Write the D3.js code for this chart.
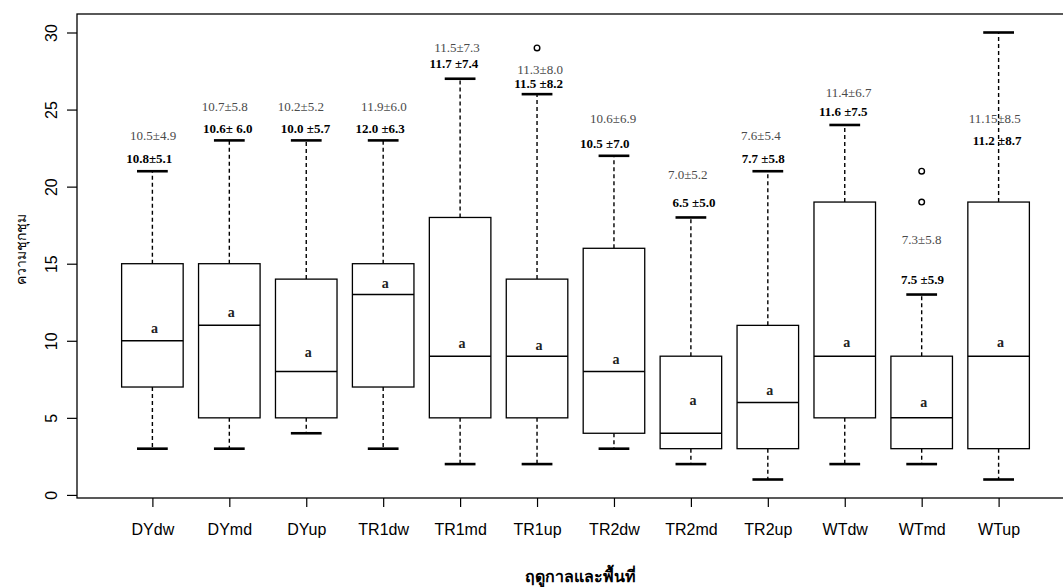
<html>
<head>
<script src="https://d3js.org/d3.v7.min.js"></script>
<style>
body { margin: 0; background: #ffffff; }
.tick-lab { font-family: 'Liberation Sans', Arial, sans-serif; font-size: 16px; fill: #000; }
.stat-top { font-family: 'Liberation Serif', 'Times New Roman', serif; font-size: 13px; fill: #4a4a4a; }
.stat-bold { font-family: 'Liberation Serif', 'Times New Roman', serif; font-size: 13px; font-weight: bold; fill: #000; }
.grp { font-family: 'Liberation Serif', 'Times New Roman', serif; font-size: 14px; font-weight: bold; fill: #222; }
</style>
</head>
<body>
<svg id="chart" width="1063" height="587"></svg>
<script>
// site x season groups
var categories = ["DYdw", "DYmd", "DYup", "TR1dw", "TR1md", "TR1up", "TR2dw", "TR2md", "TR2up", "WTdw", "WTmd", "WTup"];
// boxplot five numbers
var whiskerLow  = [3, 3, 4, 3, 2, 2, 3, 2, 1, 2, 2, 1];
var q1          = [7, 5, 5, 7, 5, 5, 4, 3, 3, 5, 3, 3];
var medians     = [10, 11, 8, 13, 9, 9, 8, 4, 6, 9, 5, 9];
var q3          = [15, 15, 14, 15, 18, 14, 16, 9, 11, 19, 9, 19];
var whiskerHigh = [21, 23, 23, 23, 27, 26, 22, 18, 21, 24, 13, 30];
var outliers    = [[], [], [], [], [], [29], [], [], [], [], [21, 19], []];

// mean±sd text, two lines per group (x in group units, y in data units)
var statTop   = ["10.5\u00b14.9", "10.7\u00b15.8", "10.2\u00b15.2", "11.9\u00b16.0", "11.5\u00b17.3", "11.3\u00b18.0", "10.6\u00b16.9", "7.0\u00b15.2", "7.6\u00b15.4", "11.4\u00b16.7", "7.3\u00b15.8", "11.15\u00b18.5"];
var statTopX  = [1.01, 1.94, 2.93, 4.01, 4.96, 6.04, 6.99, 7.96, 8.91, 10.05, 11.0, 11.95];
var statTopY  = [23.3, 25.2, 25.2, 25.2, 29.0, 27.6, 24.4, 20.8, 23.3, 26.1, 16.6, 24.4];
var statBold  = ["10.8\u00b15.1", "10.6\u00b1 6.0", "10.0 \u00b15.7", "12.0 \u00b16.3", "11.7 \u00b17.4", "11.5 \u00b18.2", "10.5 \u00b17.0", "6.5 \u00b15.0", "7.7 \u00b15.8", "11.6 \u00b17.5", "7.5 \u00b15.9", "11.2 \u00b18.7"];
var statBoldX = [0.96, 1.98, 2.99, 3.96, 4.92, 6.02, 6.88, 8.04, 8.94, 9.98, 11.01, 11.98];
var statBoldY = [21.8, 23.8, 23.8, 23.8, 28.0, 26.7, 22.8, 19.0, 21.8, 24.9, 14.0, 23.0];

// significance letters
var groupLetter  = ["a", "a", "a", "a", "a", "a", "a", "a", "a", "a", "a", "a"];
var groupLetterY = [10.77, 11.8, 9.2, 13.7, 9.8, 9.7, 8.75, 6.1, 6.75, 9.87, 5.95, 9.87];

var yTicks = [0, 5, 10, 15, 20, 25, 30];

var svg = d3.select("#chart");
var plotLeft = 77, plotRight = 1074, plotTop = 14, plotBottom = 498;

var x = d3.scaleLinear().domain([0.02, 12.98]).range([plotLeft, plotRight]);
var y = d3.scaleLinear().domain([-0.2, 31.2]).range([plotBottom, plotTop]);
var boxHalf = (x(1.4) - x(1));
var capHalf = (x(1.2) - x(1));

var data = categories.map(function (c, i) {
    return { name: c, pos: i + 1, lo: whiskerLow[i], q1: q1[i], med: medians[i], q3: q3[i], hi: whiskerHigh[i], out: outliers[i] };
});

// frame (right side falls outside the picture)
svg.append("rect")
    .attr("x", plotLeft).attr("y", plotTop)
    .attr("width", plotRight - plotLeft).attr("height", plotBottom - plotTop)
    .attr("fill", "none").attr("stroke", "#000").attr("stroke-width", 1.3);

// y axis
var yAxis = svg.append("g")
    .attr("transform", "translate(" + plotLeft + ",0)")
    .call(d3.axisLeft(y).tickValues(yTicks).tickSize(10).tickFormat(d3.format("d")));
yAxis.select(".domain").remove();
yAxis.selectAll("line").attr("stroke", "#000").attr("stroke-width", 1.2);
yAxis.selectAll("text")
    .attr("class", "tick-lab")
    .attr("transform", "rotate(-90)")
    .attr("x", 0).attr("y", -20).attr("dy", 0)
    .attr("text-anchor", "middle")
    .attr("fill", "#000")
    .style("font-size", "16px").style("font-family", "'Liberation Sans', Arial, sans-serif");

// x axis
var xAxis = svg.append("g")
    .attr("transform", "translate(0," + plotBottom + ")")
    .call(d3.axisBottom(x).tickValues(d3.range(1, 13)).tickSize(9)
        .tickFormat(function (d) { return categories[d - 1]; }));
xAxis.select(".domain").remove();
xAxis.selectAll("line").attr("stroke", "#000").attr("stroke-width", 1.2);
xAxis.selectAll("text")
    .attr("class", "tick-lab")
    .attr("y", 37).attr("dy", 0)
    .attr("fill", "#000")
    .style("font-size", "16px").style("font-family", "'Liberation Sans', Arial, sans-serif");

// boxes
var g = svg.selectAll("g.box")
    .data(data)
    .enter().append("g")
    .attr("class", "box");

// whiskers (dashed)
g.append("line")
    .attr("x1", function (d) { return x(d.pos); })
    .attr("x2", function (d) { return x(d.pos); })
    .attr("y1", function (d) { return y(d.q3); })
    .attr("y2", function (d) { return y(d.hi); })
    .attr("stroke", "#000").attr("stroke-width", 1.4).attr("stroke-dasharray", "4,3");
g.append("line")
    .attr("x1", function (d) { return x(d.pos); })
    .attr("x2", function (d) { return x(d.pos); })
    .attr("y1", function (d) { return y(d.q1); })
    .attr("y2", function (d) { return y(d.lo); })
    .attr("stroke", "#000").attr("stroke-width", 1.4).attr("stroke-dasharray", "4,3");

// staples
g.append("line")
    .attr("x1", function (d) { return x(d.pos) - capHalf; })
    .attr("x2", function (d) { return x(d.pos) + capHalf; })
    .attr("y1", function (d) { return y(d.hi); })
    .attr("y2", function (d) { return y(d.hi); })
    .attr("stroke", "#000").attr("stroke-width", 2.6);
g.append("line")
    .attr("x1", function (d) { return x(d.pos) - capHalf; })
    .attr("x2", function (d) { return x(d.pos) + capHalf; })
    .attr("y1", function (d) { return y(d.lo); })
    .attr("y2", function (d) { return y(d.lo); })
    .attr("stroke", "#000").attr("stroke-width", 2.6);

g.append("rect")
    .attr("x", function (d) { return x(d.pos) - boxHalf; })
    .attr("width", boxHalf * 2)
    .attr("y", function (d) { return y(d.q3); })
    .attr("height", function (d) { return y(d.q1) - y(d.q3); })
    .attr("fill", "#fff").attr("stroke", "#000").attr("stroke-width", 1.3);

g.append("line")
    .attr("x1", function (d) { return x(d.pos) - boxHalf; })
    .attr("x2", function (d) { return x(d.pos) + boxHalf; })
    .attr("y1", function (d) { return y(d.med); })
    .attr("y2", function (d) { return y(d.med); })
    .attr("stroke", "#000").attr("stroke-width", 1.5);

// outliers
g.selectAll("circle")
    .data(function (d) { return d.out.map(function (v) { return { pos: d.pos, v: v }; }); })
    .enter().append("circle")
    .attr("cx", function (d) { return x(d.pos); })
    .attr("cy", function (d) { return y(d.v); })
    .attr("r", 2.8)
    .attr("fill", "none").attr("stroke", "#000").attr("stroke-width", 1.4);

// letters inside boxes
svg.selectAll("text.grp")
    .data(groupLetter)
    .enter().append("text")
    .attr("class", "grp")
    .attr("x", function (d, i) { return x(i + 1) + 2; })
    .attr("y", function (d, i) { return y(groupLetterY[i]); })
    .attr("dy", "0.3em")
    .attr("text-anchor", "middle")
    .text(function (d) { return d; });

// mean ± sd labels
svg.selectAll("text.stat-top")
    .data(statTop)
    .enter().append("text")
    .attr("class", "stat-top")
    .attr("x", function (d, i) { return x(statTopX[i]); })
    .attr("y", function (d, i) { return y(statTopY[i]); })
    .attr("dy", "0.35em")
    .attr("text-anchor", "middle")
    .text(function (d) { return d; });

svg.selectAll("text.stat-bold")
    .data(statBold)
    .enter().append("text")
    .attr("class", "stat-bold")
    .attr("x", function (d, i) { return x(statBoldX[i]); })
    .attr("y", function (d, i) { return y(statBoldY[i]); })
    .attr("dy", "0.35em")
    .attr("text-anchor", "middle")
    .text(function (d) { return d; });

// axis titles
svg.append("text")
    .attr("transform", "translate(26,249) rotate(-90)")
    .attr("text-anchor", "middle")
    .style("font-family", "'Noto Sans', sans-serif")
    .style("font-size", "14px")
    .text("ความชุกชุม");

svg.append("text")
    .attr("x", 580).attr("y", 582)
    .attr("text-anchor", "middle")
    .style("font-family", "'Noto Sans', sans-serif")
    .style("font-size", "16px")
    .style("font-weight", "bold")
    .text("ฤดูกาลและพื้นที่");
</script>
</body>
</html>
